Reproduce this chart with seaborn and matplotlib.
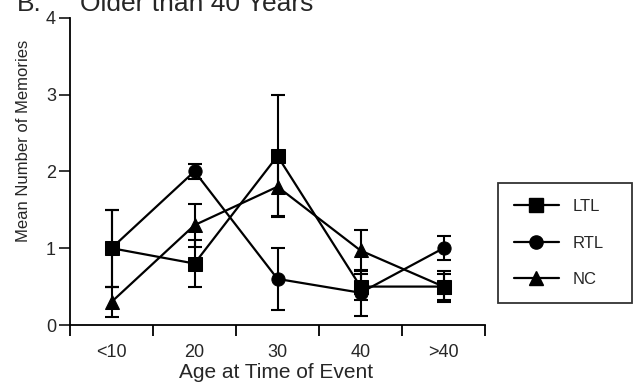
import matplotlib
matplotlib.use("Agg")
import matplotlib.pyplot as plt
from matplotlib.lines import Line2D
import seaborn as sns
import pandas as pd
import numpy as np

categories = ["<10", "20", "30", "40", ">40"]
groups = ["LTL", "RTL", "NC"]
ltl_mean = [1.0, 0.8, 2.2, 0.5, 0.5]
ltl_err = [0.5, 0.3, 0.8, 0.17, 0.2]
rtl_mean = [1.0, 2.0, 0.6, 0.42, 1.0]
rtl_err = [0.5, 0.1, 0.4, 0.3, 0.16]
nc_mean = [0.3, 1.3, 1.8, 0.97, 0.5]
nc_err = [0.2, 0.28, 0.38, 0.27, 0.17]

means = {"LTL": ltl_mean, "RTL": rtl_mean, "NC": nc_mean}
errs = {"LTL": ltl_err, "RTL": rtl_err, "NC": nc_err}
markers = {"LTL": "s", "RTL": "o", "NC": "^"}

sns.set_theme(style="ticks")
plt.rcParams["font.family"] = ["Liberation Sans", "DejaVu Sans"]

rows = []
for g in groups:
    for i, c in enumerate(categories):
        rows.append({"pos": i + 1, "age": c, "group": g, "value": means[g][i]})
df = pd.DataFrame(rows)

fig = plt.figure(figsize=(6.33, 3.83), dpi=100)
ax = fig.add_axes([70 / 633, 1 - 325 / 383, 415 / 633, (325 - 17.7) / 383])

for g in groups:
    x = np.arange(1, len(categories) + 1)
    ax.errorbar(x, means[g], yerr=errs[g], fmt="none", ecolor="black",
                elinewidth=1.5, capsize=5, capthick=1.5, zorder=2)

sns.lineplot(data=df, x="pos", y="value", hue="group", style="group",
             markers=markers, dashes=False, palette=["black"] * 3,
             hue_order=groups, style_order=groups, markersize=9.5,
             linewidth=1.6, markeredgecolor="black", ax=ax, zorder=3,
             legend=False)

ax.set_xlim(0.5, 5.5)
ax.set_ylim(0, 4)
ax.set_yticks([0, 1, 2, 3, 4])
ax.set_xticks(np.arange(0.5, 6.0, 1.0))
ax.set_xticklabels([])
ax.set_xticks(np.arange(1, 6), minor=True)
ax.set_xticklabels(categories, minor=True)
ax.tick_params(axis="x", which="major", length=8, width=1.3, direction="out", colors="black")
ax.tick_params(axis="x", which="minor", length=0, pad=14, labelsize=13)
ax.tick_params(axis="y", length=8, width=1.3, direction="out", labelsize=13, pad=2)
ax.spines["top"].set_visible(False)
ax.spines["right"].set_visible(False)
for s in ["left", "bottom"]:
    ax.spines[s].set_linewidth(1.3)
    ax.spines[s].set_color("black")
ax.set_xlabel("Age at Time of Event", fontsize=15)
ax.set_ylabel("Mean Number of Memories", fontsize=12)
ax.xaxis.set_label_coords(0.496, -0.125)
ax.yaxis.set_label_coords(-0.093, 0.599)

handles = [Line2D([], [], color="black", lw=1.6, marker=markers[g], markersize=9.5)
           for g in groups]
leg = fig.legend(handles, groups, loc="upper left",
                 bbox_to_anchor=(498 / 633, 1 - 298 / 383, 134 / 633, 115 / 383),
                 mode="expand", borderaxespad=0,
                 frameon=True, fancybox=False, edgecolor="black", fontsize=12,
                 handlelength=2.7, handletextpad=0.8, labelspacing=1.3,
                 borderpad=0.95)
leg.get_frame().set_linewidth(1.3)

fig.text(17 / 633, 1 - 11 / 383, "B.", fontsize=19, va="baseline", ha="left")
fig.text(80 / 633, 1 - 11 / 383, "Older than 40 Years", fontsize=19, va="baseline", ha="left")

fig.savefig("out.png", dpi=100)
